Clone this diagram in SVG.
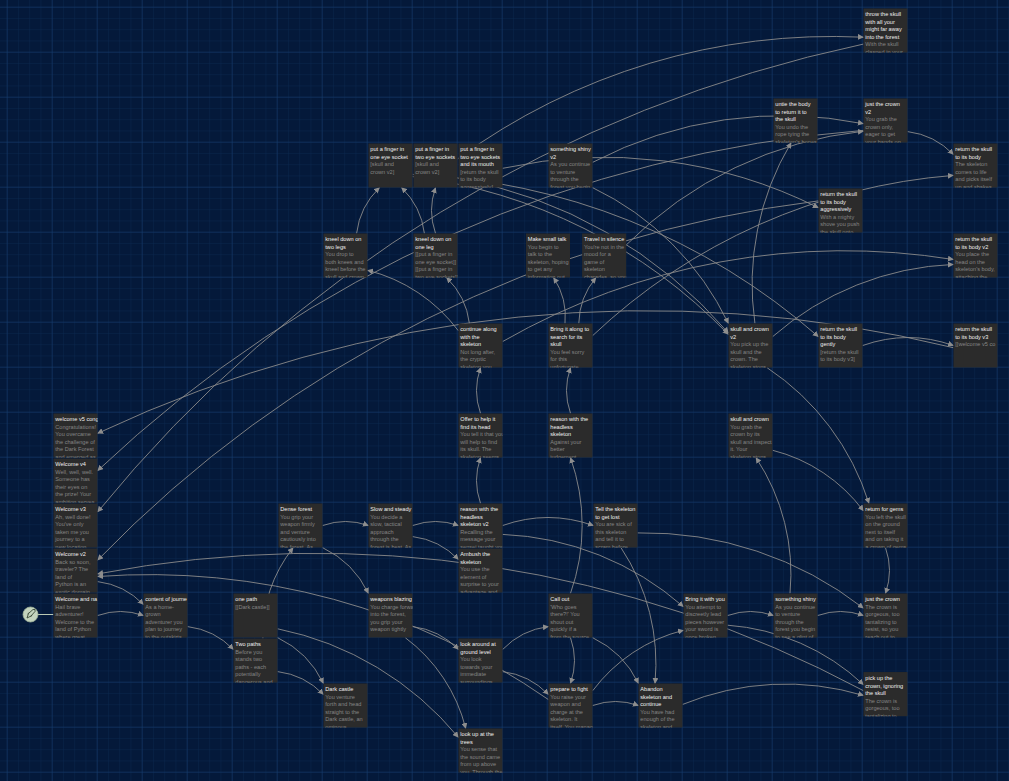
<svg xmlns="http://www.w3.org/2000/svg" width="1009" height="781" viewBox="0 0 1009 781">
<defs>
<pattern id="minor" width="11.25" height="11.25" patternUnits="userSpaceOnUse" x="6.7" y="6.7"><path d="M0 0H11.25M0 0V11.25" stroke="#0c2a52" stroke-width="0.8" fill="none"/></pattern>
<pattern id="major" width="45" height="45" patternUnits="userSpaceOnUse" x="6.7" y="6.7"><path d="M0 0H45M0 0V45" stroke="#163c6e" stroke-width="1" fill="none"/></pattern>
<marker id="ah" viewBox="0 0 10 10" refX="9" refY="5" markerWidth="6" markerHeight="6" markerUnits="userSpaceOnUse" orient="auto"><path d="M0 0L10 5L0 10z" fill="#8d8d8d"/></marker>
</defs>
<style>
.c path{fill:none;stroke:#8a8a8a;stroke-width:0.9;marker-end:url(#ah)}
.box{fill:#2b2b2b}
text{font-family:"Liberation Sans",Arial,sans-serif;font-size:5.6px}
.t{fill:#f0f0f0}
.b{fill:#858585}
</style>
<rect width="1009" height="781" fill="#04193a"/>
<rect width="1009" height="781" fill="url(#minor)"/>
<rect width="1009" height="781" fill="url(#major)"/>
<g id="connectors" class="c">
<path d="M97.7,615.5 A68.4,68.4 0 0 1 143.3,615.5"/>
<path d="M97.7,581.6 A76.5,76.5 0 0 1 143.3,604.4"/>
<path d="M187.7,626.6 A76.5,76.5 0 0 1 233.3,649.4"/>
<path d="M262.9,638.3 A143,143 0 0 1 293.1,547.7"/>
<path d="M277.7,671.6 A76.5,76.5 0 0 1 323.3,694.4"/>
<path d="M277.7,637.7 A96.7,96.7 0 0 1 323.3,683.3"/>
<path d="M277.7,628.8 A316,316 0 0 1 458.3,737.2"/>
<path d="M322.7,525.5 A68.4,68.4 0 0 1 368.3,525.5"/>
<path d="M322.7,547.7 A96.7,96.7 0 0 1 368.3,593.3"/>
<path d="M412.7,525.5 A68.4,68.4 0 0 1 458.3,525.5"/>
<path d="M412.7,536.6 A76.5,76.5 0 0 1 458.3,559.4"/>
<path d="M412.7,626.6 A76.5,76.5 0 0 1 458.3,649.4"/>
<path d="M405.3,637.7 A163,163 0 0 1 465.7,728.3"/>
<path d="M502.7,649.4 A76.5,76.5 0 0 1 548.3,626.6"/>
<path d="M502.7,671.6 A76.5,76.5 0 0 1 548.3,694.4"/>
<path d="M502.7,525.5 A136,136 0 0 1 593.3,525.5"/>
<path d="M480.5,503.3 A68.4,68.4 0 0 1 480.5,457.7"/>
<path d="M502.7,534.4 A292,292 0 0 1 683.3,606.6"/>
<path d="M570.5,593.3 A203,203 0 0 0 570.5,457.7"/>
<path d="M570.5,637.7 A68.4,68.4 0 0 1 570.5,683.3"/>
<path d="M592.7,637.7 A96.7,96.7 0 0 1 638.3,683.3"/>
<path d="M592.7,705.5 A68.4,68.4 0 0 1 638.3,705.5"/>
<path d="M592.7,690.7 A163,163 0 0 1 683.3,630.3"/>
<path d="M621,547.7 A210,210 0 0 1 655,683.3"/>
<path d="M570.5,413.3 A68.4,68.4 0 0 1 570.5,367.7"/>
<path d="M480.5,413.3 A68.4,68.4 0 0 1 480.5,367.7"/>
<path d="M565,323.3 A70.5,70.5 0 0 0 553.6,277.7"/>
<path d="M578.8,323.3 A73,73 0 0 1 595.9,277.7"/>
<path d="M727.7,615.5 A68.4,68.4 0 0 1 773.3,615.5"/>
<path d="M817.7,615.5 A68.4,68.4 0 0 1 863.3,615.5"/>
<path d="M790,593.3 A210,210 0 0 0 756,457.7"/>
<path d="M772.7,450.3 A163,163 0 0 1 863.3,510.7"/>
<path d="M767.1,367.7 A254,254 0 0 1 868.9,503.3"/>
<path d="M885.5,547.7 A68.4,68.4 0 0 1 885.5,593.3"/>
<path d="M727.7,625.2 A222,222 0 0 1 863.3,684.5"/>
<path d="M682.7,704.4 A271,271 0 0 1 863.3,695.4"/>
<path d="M637.7,532.9 A357,357 0 0 1 863.3,608.1"/>
<path d="M862.7,345.5 A136,136 0 0 1 953.3,345.5"/>
<path d="M754.9,323.3 A276,276 0 0 1 791.1,142.7"/>
<path d="M772.7,336.6 A292,292 0 0 1 953.3,264.4"/>
<path d="M592.7,162.3 A410,410 0 0 1 863.3,123.7"/>
<path d="M592.7,187.7 A288,288 0 0 1 728.3,323.3"/>
<path d="M502.7,168.3 A477,477 0 0 1 818.3,207.7"/>
<path d="M424.4,233.3 A76.5,76.5 0 0 0 401.6,187.7"/>
<path d="M435.5,233.3 A68.4,68.4 0 0 1 435.5,187.7"/>
<path d="M412.7,176.6 A529,529 0 0 1 728.3,334.4"/>
<path d="M457.7,178.2 A467,467 0 0 1 728.3,332.8"/>
<path d="M907.7,131.6 A76.5,76.5 0 0 1 953.3,154.4"/>
<path d="M458.3,330.7 A163,163 0 0 0 367.7,270.3"/>
<path d="M469.4,323.3 A76.5,76.5 0 0 0 446.6,277.7"/>
<path d="M953.3,347.7 A1290,1290 0 0 0 97.7,433.3"/>
<path d="M863.3,130.4 A1257,1257 0 0 0 97.7,470.6"/>
<path d="M863.3,44.1 A1346,1346 0 0 0 97.7,511.9"/>
<path d="M457.7,158.8 A635,635 0 0 1 863.3,37.2"/>
<path d="M818.3,200.9 A1208,1208 0 0 0 97.7,560.1"/>
<path d="M863.3,690.6 A1162,1162 0 0 0 97.7,573.9"/>
<path d="M548.3,699.5 A700,700 0 0 0 97.7,576.5"/>
<path d="M592.7,335.6 A592,592 0 0 1 953.3,175.4"/>
<path d="M502.7,341.5 A687,687 0 0 1 953.3,259.5"/>
<path d="M626.4,244.8 A394,394 0 0 1 863.3,131.2"/>
<path d="M412.7,174.4 A655,655 0 0 1 818.3,336.6"/>
<path d="M356.6,233.3 A76.5,76.5 0 0 1 379.4,187.7"/>
</g>
<g id="start">
<line x1="38" y1="614.5" x2="53.3" y2="614.5" stroke="#b9c9b4" stroke-width="1"/>
<circle cx="30.5" cy="614.5" r="7.5" fill="#c3d3bd" stroke="#9fb39a" stroke-width="0.8"/>
<path d="M27,618 L28.5,613.5 L33,609.5 L35,609.5 L35,611.5 L31,616 Z M27.5,614 L29.5,612.5 M30.5,617 L32,615" fill="none" stroke="#3a4a38" stroke-width="0.9" stroke-linejoin="round"/>
</g>
<g id="n-throw"><svg x="863.3" y="8.3" width="44.4" height="44.4"><rect class="box" width="44.4" height="44.4"/><text x="2" y="8"><tspan class="t">throw the skull</tspan><tspan class="t" x="2" dy="7.5">with all your</tspan><tspan class="t" x="2" dy="7.5">might far away</tspan><tspan class="t" x="2" dy="7.5">into the forest</tspan><tspan class="b" x="2" dy="7.5">With the skull</tspan><tspan class="b" x="2" dy="7.5">clasped in your</tspan></text></svg></g>
<g id="n-untie"><svg x="773.3" y="98.3" width="44.4" height="44.4"><rect class="box" width="44.4" height="44.4"/><text x="2" y="8"><tspan class="t">untie the body</tspan><tspan class="t" x="2" dy="7.5">to return it to</tspan><tspan class="t" x="2" dy="7.5">the skull</tspan><tspan class="b" x="2" dy="7.5">You undo the</tspan><tspan class="b" x="2" dy="7.5">rope tying the</tspan><tspan class="b" x="2" dy="7.5">skeleton's bones</tspan></text></svg></g>
<g id="n-crownv2"><svg x="863.3" y="98.3" width="44.4" height="44.4"><rect class="box" width="44.4" height="44.4"/><text x="2" y="8"><tspan class="t">just the crown</tspan><tspan class="t" x="2" dy="7.5">v2</tspan><tspan class="b" x="2" dy="7.5">You grab the</tspan><tspan class="b" x="2" dy="7.5">crown only,</tspan><tspan class="b" x="2" dy="7.5">eager to get</tspan><tspan class="b" x="2" dy="7.5">your hands on</tspan></text></svg></g>
<g id="n-return"><svg x="953.3" y="143.3" width="44.4" height="44.4"><rect class="box" width="44.4" height="44.4"/><text x="2" y="8"><tspan class="t">return the skull</tspan><tspan class="t" x="2" dy="7.5">to its body</tspan><tspan class="b" x="2" dy="7.5">The skeleton</tspan><tspan class="b" x="2" dy="7.5">comes to life</tspan><tspan class="b" x="2" dy="7.5">and picks itself</tspan><tspan class="b" x="2" dy="7.5">up and shakes</tspan></text></svg></g>
<g id="n-finger1"><svg x="368.3" y="143.3" width="44.4" height="44.4"><rect class="box" width="44.4" height="44.4"/><text x="2" y="8"><tspan class="t">put a finger in</tspan><tspan class="t" x="2" dy="7.5">one eye socket</tspan><tspan class="b" x="2" dy="7.5">[skull and</tspan><tspan class="b" x="2" dy="7.5">crown v2]</tspan></text></svg></g>
<g id="n-finger2"><svg x="413.3" y="143.3" width="44.4" height="44.4"><rect class="box" width="44.4" height="44.4"/><text x="2" y="8"><tspan class="t">put a finger in</tspan><tspan class="t" x="2" dy="7.5">two eye sockets</tspan><tspan class="b" x="2" dy="7.5">[skull and</tspan><tspan class="b" x="2" dy="7.5">crown v2]</tspan></text></svg></g>
<g id="n-finger3"><svg x="458.3" y="143.3" width="44.4" height="44.4"><rect class="box" width="44.4" height="44.4"/><text x="2" y="8"><tspan class="t">put a finger in</tspan><tspan class="t" x="2" dy="7.5">two eye sockets</tspan><tspan class="t" x="2" dy="7.5">and its mouth</tspan><tspan class="b" x="2" dy="7.5">[return the skull</tspan><tspan class="b" x="2" dy="7.5">to its body</tspan><tspan class="b" x="2" dy="7.5">aggressively]</tspan></text></svg></g>
<g id="n-shinyv2"><svg x="548.3" y="143.3" width="44.4" height="44.4"><rect class="box" width="44.4" height="44.4"/><text x="2" y="8"><tspan class="t">something shiny</tspan><tspan class="t" x="2" dy="7.5">v2</tspan><tspan class="b" x="2" dy="7.5">As you continue</tspan><tspan class="b" x="2" dy="7.5">to venture</tspan><tspan class="b" x="2" dy="7.5">through the</tspan><tspan class="b" x="2" dy="7.5">forest you begin</tspan></text></svg></g>
<g id="n-aggr"><svg x="818.3" y="188.3" width="44.4" height="44.4"><rect class="box" width="44.4" height="44.4"/><text x="2" y="8"><tspan class="t">return the skull</tspan><tspan class="t" x="2" dy="7.5">to its body</tspan><tspan class="t" x="2" dy="7.5">aggressively</tspan><tspan class="b" x="2" dy="7.5">With a mighty</tspan><tspan class="b" x="2" dy="7.5">shove you push</tspan><tspan class="b" x="2" dy="7.5">the skull onto</tspan></text></svg></g>
<g id="n-kneel2"><svg x="323.3" y="233.3" width="44.4" height="44.4"><rect class="box" width="44.4" height="44.4"/><text x="2" y="8"><tspan class="t">kneel down on</tspan><tspan class="t" x="2" dy="7.5">two legs</tspan><tspan class="b" x="2" dy="7.5">You drop to</tspan><tspan class="b" x="2" dy="7.5">both knees and</tspan><tspan class="b" x="2" dy="7.5">kneel before the</tspan><tspan class="b" x="2" dy="7.5">skull and crown</tspan></text></svg></g>
<g id="n-kneel1"><svg x="413.3" y="233.3" width="44.4" height="44.4"><rect class="box" width="44.4" height="44.4"/><text x="2" y="8"><tspan class="t">kneel down on</tspan><tspan class="t" x="2" dy="7.5">one leg</tspan><tspan class="b" x="2" dy="7.5">[[put a finger in</tspan><tspan class="b" x="2" dy="7.5">one eye socket]]</tspan><tspan class="b" x="2" dy="7.5">[[put a finger in</tspan><tspan class="b" x="2" dy="7.5">two eye sockets]]</tspan></text></svg></g>
<g id="n-small"><svg x="525.8" y="233.3" width="44.4" height="44.4"><rect class="box" width="44.4" height="44.4"/><text x="2" y="8"><tspan class="t">Make small talk</tspan><tspan class="b" x="2" dy="7.5">You begin to</tspan><tspan class="b" x="2" dy="7.5">talk to the</tspan><tspan class="b" x="2" dy="7.5">skeleton, hoping</tspan><tspan class="b" x="2" dy="7.5">to get any</tspan><tspan class="b" x="2" dy="7.5">information out</tspan></text></svg></g>
<g id="n-silence"><svg x="582.05" y="233.3" width="44.4" height="44.4"><rect class="box" width="44.4" height="44.4"/><text x="2" y="8"><tspan class="t">Travel in silence</tspan><tspan class="b" x="2" dy="7.5">You're not in the</tspan><tspan class="b" x="2" dy="7.5">mood for a</tspan><tspan class="b" x="2" dy="7.5">game of</tspan><tspan class="b" x="2" dy="7.5">skeleton</tspan><tspan class="b" x="2" dy="7.5">charades, so you</tspan></text></svg></g>
<g id="n-returnv2"><svg x="953.3" y="233.3" width="44.4" height="44.4"><rect class="box" width="44.4" height="44.4"/><text x="2" y="8"><tspan class="t">return the skull</tspan><tspan class="t" x="2" dy="7.5">to its body v2</tspan><tspan class="b" x="2" dy="7.5">You place the</tspan><tspan class="b" x="2" dy="7.5">head on the</tspan><tspan class="b" x="2" dy="7.5">skeleton's body,</tspan><tspan class="b" x="2" dy="7.5">attaching the</tspan></text></svg></g>
<g id="n-continue"><svg x="458.3" y="323.3" width="44.4" height="44.4"><rect class="box" width="44.4" height="44.4"/><text x="2" y="8"><tspan class="t">continue along</tspan><tspan class="t" x="2" dy="7.5">with the</tspan><tspan class="t" x="2" dy="7.5">skeleton</tspan><tspan class="b" x="2" dy="7.5">Not long after,</tspan><tspan class="b" x="2" dy="7.5">the cryptic</tspan><tspan class="b" x="2" dy="7.5">skeleton you</tspan></text></svg></g>
<g id="n-bring"><svg x="548.3" y="323.3" width="44.4" height="44.4"><rect class="box" width="44.4" height="44.4"/><text x="2" y="8"><tspan class="t">Bring it along to</tspan><tspan class="t" x="2" dy="7.5">search for its</tspan><tspan class="t" x="2" dy="7.5">skull</tspan><tspan class="b" x="2" dy="7.5">You feel sorry</tspan><tspan class="b" x="2" dy="7.5">for this</tspan><tspan class="b" x="2" dy="7.5">unfortunate</tspan></text></svg></g>
<g id="n-crown2"><svg x="728.3" y="323.3" width="44.4" height="44.4"><rect class="box" width="44.4" height="44.4"/><text x="2" y="8"><tspan class="t">skull and crown</tspan><tspan class="t" x="2" dy="7.5">v2</tspan><tspan class="b" x="2" dy="7.5">You pick up the</tspan><tspan class="b" x="2" dy="7.5">skull and the</tspan><tspan class="b" x="2" dy="7.5">crown. The</tspan><tspan class="b" x="2" dy="7.5">skeleton stops</tspan></text></svg></g>
<g id="n-gently"><svg x="818.3" y="323.3" width="44.4" height="44.4"><rect class="box" width="44.4" height="44.4"/><text x="2" y="8"><tspan class="t">return the skull</tspan><tspan class="t" x="2" dy="7.5">to its body</tspan><tspan class="t" x="2" dy="7.5">gently</tspan><tspan class="b" x="2" dy="7.5">[return the skull</tspan><tspan class="b" x="2" dy="7.5">to its body v3]</tspan></text></svg></g>
<g id="n-returnv3"><svg x="953.3" y="323.3" width="44.4" height="44.4"><rect class="box" width="44.4" height="44.4"/><text x="2" y="8"><tspan class="t">return the skull</tspan><tspan class="t" x="2" dy="7.5">to its body v3</tspan><tspan class="b" x="2" dy="7.5">[[welcome v5 co</tspan></text></svg></g>
<g id="n-offer"><svg x="458.3" y="413.3" width="44.4" height="44.4"><rect class="box" width="44.4" height="44.4"/><text x="2" y="8"><tspan class="t">Offer to help it</tspan><tspan class="t" x="2" dy="7.5">find its head</tspan><tspan class="b" x="2" dy="7.5">You tell it that you</tspan><tspan class="b" x="2" dy="7.5">will help to find</tspan><tspan class="b" x="2" dy="7.5">its skull. The</tspan><tspan class="b" x="2" dy="7.5">skeleton seems</tspan></text></svg></g>
<g id="n-reason"><svg x="548.3" y="413.3" width="44.4" height="44.4"><rect class="box" width="44.4" height="44.4"/><text x="2" y="8"><tspan class="t">reason with the</tspan><tspan class="t" x="2" dy="7.5">headless</tspan><tspan class="t" x="2" dy="7.5">skeleton</tspan><tspan class="b" x="2" dy="7.5">Against your</tspan><tspan class="b" x="2" dy="7.5">better</tspan><tspan class="b" x="2" dy="7.5">judgement</tspan></text></svg></g>
<g id="n-crown"><svg x="728.3" y="413.3" width="44.4" height="44.4"><rect class="box" width="44.4" height="44.4"/><text x="2" y="8"><tspan class="t">skull and crown</tspan><tspan class="b" x="2" dy="7.5">You grab the</tspan><tspan class="b" x="2" dy="7.5">crown by its</tspan><tspan class="b" x="2" dy="7.5">skull and inspect</tspan><tspan class="b" x="2" dy="7.5">it. Your</tspan><tspan class="b" x="2" dy="7.5">skeleton stops</tspan></text></svg></g>
<g id="n-w5"><svg x="53.3" y="413.3" width="44.4" height="44.4"><rect class="box" width="44.4" height="44.4"/><text x="2" y="8"><tspan class="t">welcome v5 cong</tspan><tspan class="b" x="2" dy="7.5">Congratulations!</tspan><tspan class="b" x="2" dy="7.5">You overcame</tspan><tspan class="b" x="2" dy="7.5">the challenge of</tspan><tspan class="b" x="2" dy="7.5">the Dark Forest</tspan><tspan class="b" x="2" dy="7.5">and emerged as</tspan></text></svg></g>
<g id="n-w4"><svg x="53.3" y="458.3" width="44.4" height="44.4"><rect class="box" width="44.4" height="44.4"/><text x="2" y="8"><tspan class="t">Welcome v4</tspan><tspan class="b" x="2" dy="7.5">Well, well, well.</tspan><tspan class="b" x="2" dy="7.5">Someone has</tspan><tspan class="b" x="2" dy="7.5">their eyes on</tspan><tspan class="b" x="2" dy="7.5">the prize! Your</tspan><tspan class="b" x="2" dy="7.5">ambition serves</tspan></text></svg></g>
<g id="n-w3"><svg x="53.3" y="503.3" width="44.4" height="44.4"><rect class="box" width="44.4" height="44.4"/><text x="2" y="8"><tspan class="t">Welcome v3</tspan><tspan class="b" x="2" dy="7.5">Ah, well done!</tspan><tspan class="b" x="2" dy="7.5">You've only</tspan><tspan class="b" x="2" dy="7.5">taken me you</tspan><tspan class="b" x="2" dy="7.5">journey to a</tspan><tspan class="b" x="2" dy="7.5">new location</tspan></text></svg></g>
<g id="n-w2"><svg x="53.3" y="548.3" width="44.4" height="44.4"><rect class="box" width="44.4" height="44.4"/><text x="2" y="8"><tspan class="t">Welcome v2</tspan><tspan class="b" x="2" dy="7.5">Back so soon,</tspan><tspan class="b" x="2" dy="7.5">traveler? The</tspan><tspan class="b" x="2" dy="7.5">land of</tspan><tspan class="b" x="2" dy="7.5">Python is an</tspan><tspan class="b" x="2" dy="7.5">exotic domain</tspan></text></svg></g>
<g id="n-w1"><svg x="53.3" y="593.3" width="44.4" height="44.4"><rect class="box" width="44.4" height="44.4"/><text x="2" y="8"><tspan class="t">Welcome and na</tspan><tspan class="b" x="2" dy="7.5">Hail brave</tspan><tspan class="b" x="2" dy="7.5">adventurer!</tspan><tspan class="b" x="2" dy="7.5">Welcome to the</tspan><tspan class="b" x="2" dy="7.5">land of Python</tspan><tspan class="b" x="2" dy="7.5">where great</tspan></text></svg></g>
<g id="n-dense"><svg x="278.3" y="503.3" width="44.4" height="44.4"><rect class="box" width="44.4" height="44.4"/><text x="2" y="8"><tspan class="t">Dense forest</tspan><tspan class="b" x="2" dy="7.5">You grip your</tspan><tspan class="b" x="2" dy="7.5">weapon firmly</tspan><tspan class="b" x="2" dy="7.5">and venture</tspan><tspan class="b" x="2" dy="7.5">cautiously into</tspan><tspan class="b" x="2" dy="7.5">the forest. As</tspan></text></svg></g>
<g id="n-slow"><svg x="368.3" y="503.3" width="44.4" height="44.4"><rect class="box" width="44.4" height="44.4"/><text x="2" y="8"><tspan class="t">Slow and steady</tspan><tspan class="b" x="2" dy="7.5">You decide a</tspan><tspan class="b" x="2" dy="7.5">slow, tactical</tspan><tspan class="b" x="2" dy="7.5">approach</tspan><tspan class="b" x="2" dy="7.5">through the</tspan><tspan class="b" x="2" dy="7.5">forest is best. As</tspan></text></svg></g>
<g id="n-reasonv2"><svg x="458.3" y="503.3" width="44.4" height="44.4"><rect class="box" width="44.4" height="44.4"/><text x="2" y="8"><tspan class="t">reason with the</tspan><tspan class="t" x="2" dy="7.5">headless</tspan><tspan class="t" x="2" dy="7.5">skeleton v2</tspan><tspan class="b" x="2" dy="7.5">Recalling the</tspan><tspan class="b" x="2" dy="7.5">message your</tspan><tspan class="b" x="2" dy="7.5">sensei taught you</tspan></text></svg></g>
<g id="n-ambush"><svg x="458.3" y="548.3" width="44.4" height="44.4"><rect class="box" width="44.4" height="44.4"/><text x="2" y="8"><tspan class="t">Ambush the</tspan><tspan class="t" x="2" dy="7.5">skeleton</tspan><tspan class="b" x="2" dy="7.5">You use the</tspan><tspan class="b" x="2" dy="7.5">element of</tspan><tspan class="b" x="2" dy="7.5">surprise to your</tspan><tspan class="b" x="2" dy="7.5">advantage and</tspan></text></svg></g>
<g id="n-lost"><svg x="593.3" y="503.3" width="44.4" height="44.4"><rect class="box" width="44.4" height="44.4"/><text x="2" y="8"><tspan class="t">Tell the skeleton</tspan><tspan class="t" x="2" dy="7.5">to get lost</tspan><tspan class="b" x="2" dy="7.5">You are sick of</tspan><tspan class="b" x="2" dy="7.5">this skeleton</tspan><tspan class="b" x="2" dy="7.5">and tell it to</tspan><tspan class="b" x="2" dy="7.5">scram before</tspan></text></svg></g>
<g id="n-gems"><svg x="863.3" y="503.3" width="44.4" height="44.4"><rect class="box" width="44.4" height="44.4"/><text x="2" y="8"><tspan class="t">return for gems</tspan><tspan class="b" x="2" dy="7.5">You left the skull</tspan><tspan class="b" x="2" dy="7.5">on the ground</tspan><tspan class="b" x="2" dy="7.5">next to itself</tspan><tspan class="b" x="2" dy="7.5">and on taking it</tspan><tspan class="b" x="2" dy="7.5">a crown of gems</tspan></text></svg></g>
<g id="n-content"><svg x="143.3" y="593.3" width="44.4" height="44.4"><rect class="box" width="44.4" height="44.4"/><text x="2" y="8"><tspan class="t">content of journe</tspan><tspan class="b" x="2" dy="7.5">As a home-</tspan><tspan class="b" x="2" dy="7.5">grown</tspan><tspan class="b" x="2" dy="7.5">adventurer you</tspan><tspan class="b" x="2" dy="7.5">plan to journey</tspan><tspan class="b" x="2" dy="7.5">to the outskirts</tspan></text></svg></g>
<g id="n-onepath"><svg x="233.3" y="593.3" width="44.4" height="44.4"><rect class="box" width="44.4" height="44.4"/><text x="2" y="8"><tspan class="t">one path</tspan><tspan class="b" x="2" dy="7.5">[[Dark castle]]</tspan></text></svg></g>
<g id="n-twopaths"><svg x="233.3" y="638.3" width="44.4" height="44.4"><rect class="box" width="44.4" height="44.4"/><text x="2" y="8"><tspan class="t">Two paths</tspan><tspan class="b" x="2" dy="7.5">Before you</tspan><tspan class="b" x="2" dy="7.5">stands two</tspan><tspan class="b" x="2" dy="7.5">paths - each</tspan><tspan class="b" x="2" dy="7.5">potentially</tspan><tspan class="b" x="2" dy="7.5">dangerous and</tspan></text></svg></g>
<g id="n-weapons"><svg x="368.3" y="593.3" width="44.4" height="44.4"><rect class="box" width="44.4" height="44.4"/><text x="2" y="8"><tspan class="t">weapons blazing</tspan><tspan class="b" x="2" dy="7.5">You charge forward</tspan><tspan class="b" x="2" dy="7.5">into the forest,</tspan><tspan class="b" x="2" dy="7.5">you grip your</tspan><tspan class="b" x="2" dy="7.5">weapon tightly</tspan></text></svg></g>
<g id="n-callout"><svg x="548.3" y="593.3" width="44.4" height="44.4"><rect class="box" width="44.4" height="44.4"/><text x="2" y="8"><tspan class="t">Call out</tspan><tspan class="b" x="2" dy="7.5">'Who goes</tspan><tspan class="b" x="2" dy="7.5">there?!' You</tspan><tspan class="b" x="2" dy="7.5">shout out</tspan><tspan class="b" x="2" dy="7.5">quickly if a</tspan><tspan class="b" x="2" dy="7.5">from the source</tspan></text></svg></g>
<g id="n-bringwith"><svg x="683.3" y="593.3" width="44.4" height="44.4"><rect class="box" width="44.4" height="44.4"/><text x="2" y="8"><tspan class="t">Bring it with you</tspan><tspan class="b" x="2" dy="7.5">You attempt to</tspan><tspan class="b" x="2" dy="7.5">discreetly lead</tspan><tspan class="b" x="2" dy="7.5">pieces however</tspan><tspan class="b" x="2" dy="7.5">your sword is</tspan><tspan class="b" x="2" dy="7.5">once broken</tspan></text></svg></g>
<g id="n-shiny"><svg x="773.3" y="593.3" width="44.4" height="44.4"><rect class="box" width="44.4" height="44.4"/><text x="2" y="8"><tspan class="t">something shiny</tspan><tspan class="b" x="2" dy="7.5">As you continue</tspan><tspan class="b" x="2" dy="7.5">to venture</tspan><tspan class="b" x="2" dy="7.5">through the</tspan><tspan class="b" x="2" dy="7.5">forest you begin</tspan><tspan class="b" x="2" dy="7.5">to see a glint of</tspan></text></svg></g>
<g id="n-justcrown"><svg x="863.3" y="593.3" width="44.4" height="44.4"><rect class="box" width="44.4" height="44.4"/><text x="2" y="8"><tspan class="t">just the crown</tspan><tspan class="b" x="2" dy="7.5">The crown is</tspan><tspan class="b" x="2" dy="7.5">gorgeous, too</tspan><tspan class="b" x="2" dy="7.5">tantalizing to</tspan><tspan class="b" x="2" dy="7.5">resist, so you</tspan><tspan class="b" x="2" dy="7.5">reach out to</tspan></text></svg></g>
<g id="n-ground"><svg x="458.3" y="638.3" width="44.4" height="44.4"><rect class="box" width="44.4" height="44.4"/><text x="2" y="8"><tspan class="t">look around at</tspan><tspan class="t" x="2" dy="7.5">ground level</tspan><tspan class="b" x="2" dy="7.5">You look</tspan><tspan class="b" x="2" dy="7.5">towards your</tspan><tspan class="b" x="2" dy="7.5">immediate</tspan><tspan class="b" x="2" dy="7.5">surroundings</tspan></text></svg></g>
<g id="n-dark"><svg x="323.3" y="683.3" width="44.4" height="44.4"><rect class="box" width="44.4" height="44.4"/><text x="2" y="8"><tspan class="t">Dark castle</tspan><tspan class="b" x="2" dy="7.5">You venture</tspan><tspan class="b" x="2" dy="7.5">forth and head</tspan><tspan class="b" x="2" dy="7.5">straight to the</tspan><tspan class="b" x="2" dy="7.5">Dark castle, an</tspan><tspan class="b" x="2" dy="7.5">ominous</tspan></text></svg></g>
<g id="n-fight"><svg x="548.3" y="683.3" width="44.4" height="44.4"><rect class="box" width="44.4" height="44.4"/><text x="2" y="8"><tspan class="t">prepare to fight</tspan><tspan class="b" x="2" dy="7.5">You raise your</tspan><tspan class="b" x="2" dy="7.5">weapon and</tspan><tspan class="b" x="2" dy="7.5">charge at the</tspan><tspan class="b" x="2" dy="7.5">skeleton. It</tspan><tspan class="b" x="2" dy="7.5">itself. You manage</tspan></text></svg></g>
<g id="n-abandon"><svg x="638.3" y="683.3" width="44.4" height="44.4"><rect class="box" width="44.4" height="44.4"/><text x="2" y="8"><tspan class="t">Abandon</tspan><tspan class="t" x="2" dy="7.5">skeleton and</tspan><tspan class="t" x="2" dy="7.5">continue</tspan><tspan class="b" x="2" dy="7.5">You have had</tspan><tspan class="b" x="2" dy="7.5">enough of the</tspan><tspan class="b" x="2" dy="7.5">skeleton and</tspan></text></svg></g>
<g id="n-pickup"><svg x="863.3" y="672.05" width="44.4" height="44.4"><rect class="box" width="44.4" height="44.4"/><text x="2" y="8"><tspan class="t">pick up the</tspan><tspan class="t" x="2" dy="7.5">crown, ignoring</tspan><tspan class="t" x="2" dy="7.5">the skull</tspan><tspan class="b" x="2" dy="7.5">The crown is</tspan><tspan class="b" x="2" dy="7.5">gorgeous, too</tspan><tspan class="b" x="2" dy="7.5">tantalizing to</tspan></text></svg></g>
<g id="n-trees"><svg x="458.3" y="728.3" width="44.4" height="44.4"><rect class="box" width="44.4" height="44.4"/><text x="2" y="8"><tspan class="t">look up at the</tspan><tspan class="t" x="2" dy="7.5">trees</tspan><tspan class="b" x="2" dy="7.5">You sense that</tspan><tspan class="b" x="2" dy="7.5">the sound came</tspan><tspan class="b" x="2" dy="7.5">from up above</tspan><tspan class="b" x="2" dy="7.5">you. Through the</tspan></text></svg></g>
</svg>
